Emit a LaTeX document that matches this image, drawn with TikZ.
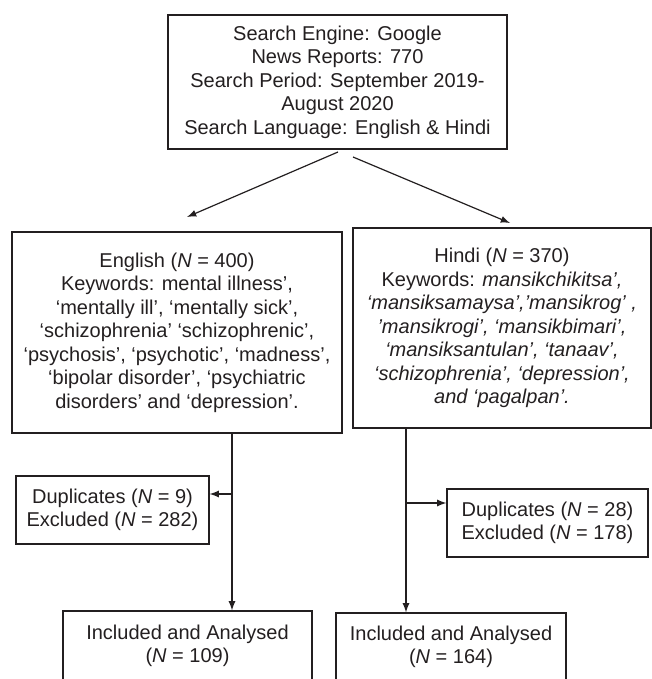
\documentclass[tikz,border=0pt]{standalone}
\usepackage{fontspec}
\setmainfont{Liberation Sans}
\usepackage{xcolor}
\usetikzlibrary{positioning}

\definecolor{ink}{HTML}{231F20}

\tikzset{
  flowbox/.style={draw=ink, rectangle, align=center, inner sep=0pt,
    text=ink, font=\fontsize{10}{11.75}\selectfont},
}

\begin{document}
\begin{tikzpicture}[x=0.5pt, y=-0.5pt, >=latex, line width=0.6pt, draw=ink]
        \useasboundingbox (0,0) rectangle (652,679);

        \node (search) [flowbox, minimum width=169.5pt, minimum height=67pt] at (337.5,82)
            {Search Engine: Google\\ News Reports: 770\\ Search Period: September 2019-\\ August 2020\\ Search Language: English \& Hindi};
        \node (english) [flowbox, minimum width=165pt, minimum height=100.5pt] at (177,332.5)
            {English (\textit{N} = 400)\\ Keywords: mental illness’,\\ ‘mentally ill’, ‘mentally sick’,\\ ‘schizophrenia’ ‘schizophrenic’,\\ ‘psychosis’, ‘psychotic’, ‘madness’,\\ ‘bipolar disorder’, ‘psychiatric\\ disorders’ and ‘depression’.};
        \node (hindi) [flowbox, minimum width=149pt, minimum height=100pt] at (502,328)
            {Hindi (\textit{N} = 370)\\ Keywords: \textit{mansikchikitsa’,}\\ \textit{‘mansiksamaysa’,’mansikrog’ ,}\\ \textit{’mansikrogi’, ‘mansikbimari’,}\\ \textit{‘mansiksantulan’, ‘tanaav’,}\\ \textit{‘schizophrenia’, ‘depression’,}\\ \textit{and ‘pagalpan’.}};
        \node (engdup) [flowbox, minimum width=96.5pt, minimum height=34pt] at (112.5,510)
            {Duplicates (\textit{N} = 9)\\ Excluded (\textit{N} = 282)};
        \node (hindup) [flowbox, minimum width=100.5pt, minimum height=34pt] at (547.5,523)
            {Duplicates (\textit{N} = 28)\\ Excluded (\textit{N} = 178)};
        \node (engincl) [flowbox, minimum width=124.5pt, minimum height=35pt] at (187.5,646)
            {Included and Analysed\\ (\textit{N} = 109)};
        \node (hinincl) [flowbox, minimum width=115pt, minimum height=34pt] at (451,647)
            {Included and Analysed\\ (\textit{N} = 164)};

        \coordinate (engtail) at (338,152);
        \coordinate (hintail) at (353,157);
        \coordinate (enghead) at (187,217);
        \coordinate (hinhead) at (510,223);
        \coordinate (engsplit) at (232,494);
        \coordinate (hinsplit) at (406,503);

        \draw[->] (engtail) -- (enghead);
        \draw[->] (hintail) -- (hinhead);

        \draw (english.south -| engsplit) -- (engsplit);
        \draw[->] (engsplit) -- (engdup.east |- engsplit);
        \draw[->] (engsplit) -- (engsplit |- engincl.north);

        \draw (hindi.south -| hinsplit) -- (hinsplit);
        \draw[->] (hinsplit) -- (hindup.west |- hinsplit);
        \draw[->] (hinsplit) -- (hinsplit |- hinincl.north);
    \end{tikzpicture}
\end{document}
